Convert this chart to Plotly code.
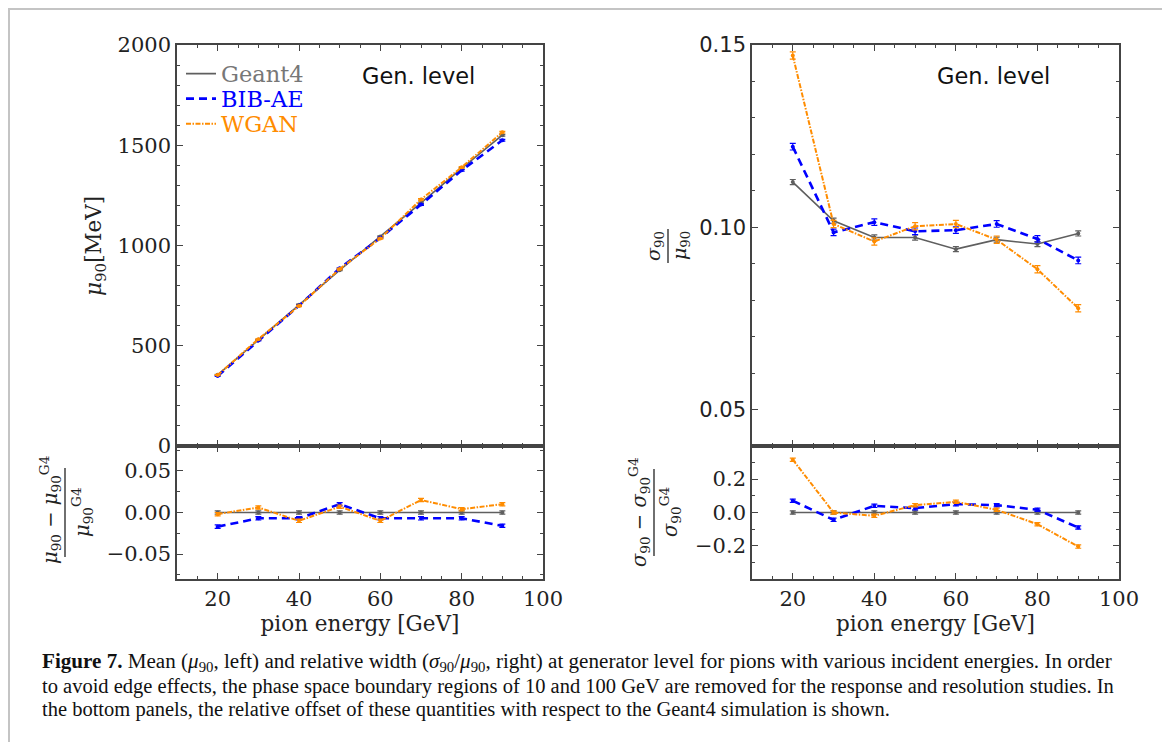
import plotly.graph_objects as go

W, H = 1170, 742

# ---------------- data ----------------
energy = [20, 30, 40, 50, 60, 70, 80, 90]

mean_g4 = [355, 530, 705, 877, 1045, 1212, 1385, 1550]
mean_bib = [349, 526, 700, 886, 1038, 1204, 1375, 1525]
mean_wgan = [354, 533, 698, 883, 1035, 1230, 1390, 1565]
mean_err_g4 = [2, 2, 3, 3, 3, 4, 4, 4]
mean_err_bib = [2, 2, 3, 3, 3, 4, 4, 4]
mean_err_wgan = [2, 2, 3, 3, 3, 4, 4, 4]

relmean_g4 = [0.0, 0.0, 0.0, 0.0, 0.0, 0.0, 0.0, 0.0]
relmean_bib = [-0.017, -0.007, -0.007, 0.010, -0.007, -0.007, -0.007, -0.016]
relmean_wgan = [-0.002, 0.006, -0.010, 0.007, -0.010, 0.015, 0.004, 0.010]
relmean_err = [0.002, 0.002, 0.002, 0.002, 0.002, 0.002, 0.002, 0.002]

res_g4 = [0.1124, 0.1018, 0.0972, 0.0972, 0.0940, 0.0966, 0.0954, 0.0983]
res_bib = [0.1221, 0.0986, 0.1014, 0.0989, 0.0992, 0.1009, 0.0968, 0.0909]
res_wgan = [0.1471, 0.1009, 0.0961, 0.1003, 0.1009, 0.0966, 0.0885, 0.0778]
res_err_g4 = [0.0007, 0.0007, 0.0007, 0.0007, 0.0007, 0.0007, 0.0007, 0.0007]
res_err_bib = [0.0009, 0.0009, 0.0009, 0.0009, 0.0009, 0.0009, 0.0009, 0.0009]
res_err_wgan = [0.0010, 0.0010, 0.0010, 0.0010, 0.0010, 0.0010, 0.0010, 0.0010]

relres_g4 = [0.0, 0.0, 0.0, 0.0, 0.0, 0.0, 0.0, 0.0]
relres_bib = [0.070, -0.044, 0.040, 0.026, 0.050, 0.044, 0.016, -0.090]
relres_wgan = [0.316, 0.000, -0.020, 0.044, 0.064, 0.016, -0.070, -0.204]
relres_err = [0.010, 0.010, 0.010, 0.010, 0.010, 0.010, 0.010, 0.010]

series_names = ["Geant4", "BIB-AE", "WGAN"]
x_ticks = [20, 40, 60, 80, 100]
mean_ticks = [0, 500, 1000, 1500, 2000]
relmean_ticks = [-0.05, 0.0, 0.05]
res_ticks = [0.05, 0.10, 0.15]
relres_ticks = [-0.2, 0.0, 0.2]

# ---------------- styles ----------------
C_G4 = "#5f5f5f"
C_BIB = "#0000ff"
C_WGAN = "#ff8c00"
styles = {
    "Geant4": dict(color=C_G4, width=1.6, dash="solid", label="#777777"),
    "BIB-AE": dict(color=C_BIB, width=2.6, dash="8px,5px", label=C_BIB),
    "WGAN": dict(color=C_WGAN, width=2.0, dash="5px,1.5px,1.5px,1.5px", label=C_WGAN),
}
SERIF = "DejaVu Serif"
SANS = "DejaVu Sans"
AX = "#444444"

fig = go.Figure()


def add(x, y, err, name, xa, ya):
    st = styles[name]
    fig.add_trace(go.Scatter(
        x=x, y=y, mode="lines+markers", name=name,
        line=dict(color=st["color"], width=st["width"], dash=st["dash"]),
        marker=dict(color=st["color"], size=4),
        error_y=dict(type="data", array=err, visible=True, color=st["color"],
                     thickness=1.2, width=3),
        xaxis=xa, yaxis=ya, showlegend=False,
    ))


add(energy, mean_g4, mean_err_g4, "Geant4", "x", "y")
add(energy, mean_bib, mean_err_bib, "BIB-AE", "x", "y")
add(energy, mean_wgan, mean_err_wgan, "WGAN", "x", "y")

add(energy, relmean_g4, relmean_err, "Geant4", "x2", "y2")
add(energy, relmean_bib, relmean_err, "BIB-AE", "x2", "y2")
add(energy, relmean_wgan, relmean_err, "WGAN", "x2", "y2")

add(energy, res_g4, res_err_g4, "Geant4", "x3", "y3")
add(energy, res_bib, res_err_bib, "BIB-AE", "x3", "y3")
add(energy, res_wgan, res_err_wgan, "WGAN", "x3", "y3")

add(energy, relres_g4, relres_err, "Geant4", "x4", "y4")
add(energy, relres_bib, relres_err, "BIB-AE", "x4", "y4")
add(energy, relres_wgan, relres_err, "WGAN", "x4", "y4")

# legend-only entries (line sample, coloured label), one legend per entry
legend_keys = ["legend", "legend2", "legend3"]
for name, key in zip(series_names, legend_keys):
    st = styles[name]
    fig.add_trace(go.Scatter(
        x=[None], y=[None], mode="lines",
        name="<span style='color:%s'>%s</span>" % (st["label"], name),
        line=dict(color=st["color"], width=st["width"], dash=st["dash"]),
        xaxis="x", yaxis="y", showlegend=True, legend=key,
    ))

# the page body adds an 8px margin; positions below are screen pixels
OFF = 8


def px_x(p):
    return (p - OFF) / W


def px_y(p):
    return 1 - (p - OFF) / H


LX = [px_x(177), px_x(543)]
RX = [px_x(752), px_x(1119)]
TOPY = [px_y(446), px_y(45)]
BOTY = [px_y(579), px_y(446)]


def xaxis(domain, anchor, labels, minor_dtick=5):
    return dict(
        domain=domain, anchor=anchor, range=[10, 100], automargin=False,
        tickmode="array", tickvals=x_ticks,
        showticklabels=labels,
        ticks="inside", ticklen=6, tickwidth=1.2, tickcolor=AX,
        minor=dict(dtick=minor_dtick, tick0=0, ticks="inside", ticklen=3,
                   tickwidth=1, tickcolor=AX),
        showline=True, linecolor=AX, linewidth=1.6, mirror="allticks",
        showgrid=False, zeroline=False,
        tickfont=dict(family=SERIF, size=21, color="#222"),
    )


def yaxis(domain, anchor, rng, tickvals, minor, fmt=None, fam=SERIF):
    d = dict(
        domain=domain, anchor=anchor, range=rng, automargin=False,
        tickmode="array", tickvals=tickvals,
        ticks="inside", ticklen=6, tickwidth=1.2, tickcolor=AX,
        minor=dict(dtick=minor, tick0=0, ticks="inside", ticklen=3,
                   tickwidth=1, tickcolor=AX),
        showline=True, linecolor=AX, linewidth=1.6, mirror="allticks",
        showgrid=False, zeroline=False,
        tickfont=dict(family=fam, size=21, color="#222"),
    )
    if fmt:
        d["tickformat"] = fmt
    return d


def legend_at(y):
    return dict(x=px_x(181), y=px_y(y), xanchor="left", yanchor="middle",
                bgcolor="rgba(0,0,0,0)", borderwidth=0,
                font=dict(family=SERIF, size=22.5), itemwidth=30,
                itemclick=False, itemdoubleclick=False)


fig.update_layout(
    width=W, height=H,
    margin=dict(l=0, r=0, t=0, b=0, autoexpand=False),
    paper_bgcolor="white", plot_bgcolor="white",
    xaxis=xaxis(LX, "y", False),
    xaxis2=xaxis(LX, "y2", True),
    xaxis3=xaxis(RX, "y3", False),
    xaxis4=xaxis(RX, "y4", True),
    yaxis=yaxis(TOPY, "x", [0, 2000], mean_ticks, 100),
    yaxis2=yaxis(BOTY, "x2", [-0.08, 0.08], relmean_ticks, 0.025, ".2f"),
    yaxis3=yaxis(TOPY, "x3", [0.04, 0.15], res_ticks, 0.01, ".2f", SANS),
    yaxis4=yaxis(BOTY, "x4", [-0.398, 0.398], relres_ticks, 0.1, ".1f"),
    legend=legend_at(74),
    legend2=legend_at(99),
    legend3=legend_at(124),
    showlegend=True,
)

fig.layout.xaxis2.title = dict(text="pion energy [GeV]", standoff=0,
                               font=dict(family=SERIF, size=21.5, color="#222"))
fig.layout.xaxis4.title = dict(text="pion energy [GeV]", standoff=0,
                               font=dict(family=SERIF, size=21.5, color="#222"))

ann = []


def text(x, y, t, size=20, fam=SERIF, angle=0, xanchor="center", yanchor="middle", color="#222"):
    ann.append(dict(x=px_x(x), y=px_y(y), xref="paper", yref="paper", text=t,
                    showarrow=False, textangle=angle, xanchor=xanchor, yanchor=yanchor,
                    font=dict(family=fam, size=size, color=color)))


text(418, 76, "Gen. level", size=22.5, fam=SANS, color="#111")
text(993, 76, "Gen. level", size=22.5, fam=SANS, color="#111")
text(96, 246, "<i>μ</i><sub>90</sub>[MeV]", size=21.5, angle=-90)

# sigma/mu fraction (right top)
text(655, 246, "<i>σ</i><sub>90</sub>", size=19, angle=-90)
text(681, 246, "<i>μ</i><sub>90</sub>", size=19, angle=-90)
# left bottom fraction
text(50, 510, "<i>μ</i><sub>90</sub> − <i>μ</i><sub>90</sub><sup>G4</sup>", size=19.5, angle=-90)
text(82, 512, "<i>μ</i><sub>90</sub><sup>G4</sup>", size=19.5, angle=-90)
# right bottom fraction
text(639, 512, "<i>σ</i><sub>90</sub> − <i>σ</i><sub>90</sub><sup>G4</sup>", size=19.5, angle=-90)
text(670, 512, "<i>σ</i><sub>90</sub><sup>G4</sup>", size=19.5, angle=-90)

caption_lines = [
    "<b>Figure 7.</b> Mean (<i>μ</i><sub>90</sub>, left) and relative width "
    "(<i>σ</i><sub>90</sub>/<i>μ</i><sub>90</sub>, right) at generator level for pions with various incident energies. In order",
    "to avoid edge effects, the phase space boundary regions of 10 and 100 GeV are removed for the response and resolution studies. In",
    "the bottom panels, the relative offset of these quantities with respect to the Geant4 simulation is shown.",
]
for line, yy, sz in zip(caption_lines, [662, 686, 709], [21.1, 20.5, 20.5]):
    text(40, yy, line, size=sz, fam="Liberation Serif", xanchor="left", color="#111")

fig.update_layout(annotations=ann)

shapes = [
    dict(type="rect", xref="paper", yref="paper", x0=px_x(9), x1=px_x(1163),
         y0=px_y(9), y1=px_y(760), line=dict(color="#c4c4c4", width=2)),
    dict(type="line", xref="paper", yref="paper", x0=px_x(668), x1=px_x(668),
         y0=px_y(229), y1=px_y(263), line=dict(color="#222", width=1.3)),
    dict(type="line", xref="paper", yref="paper", x0=px_x(65), x1=px_x(65),
         y0=px_y(468), y1=px_y(557), line=dict(color="#222", width=1.3)),
    dict(type="line", xref="paper", yref="paper", x0=px_x(654), x1=px_x(654),
         y0=px_y(469), y1=px_y(556), line=dict(color="#222", width=1.3)),
]
fig.update_layout(shapes=shapes)

fig.write_html("out.html")
